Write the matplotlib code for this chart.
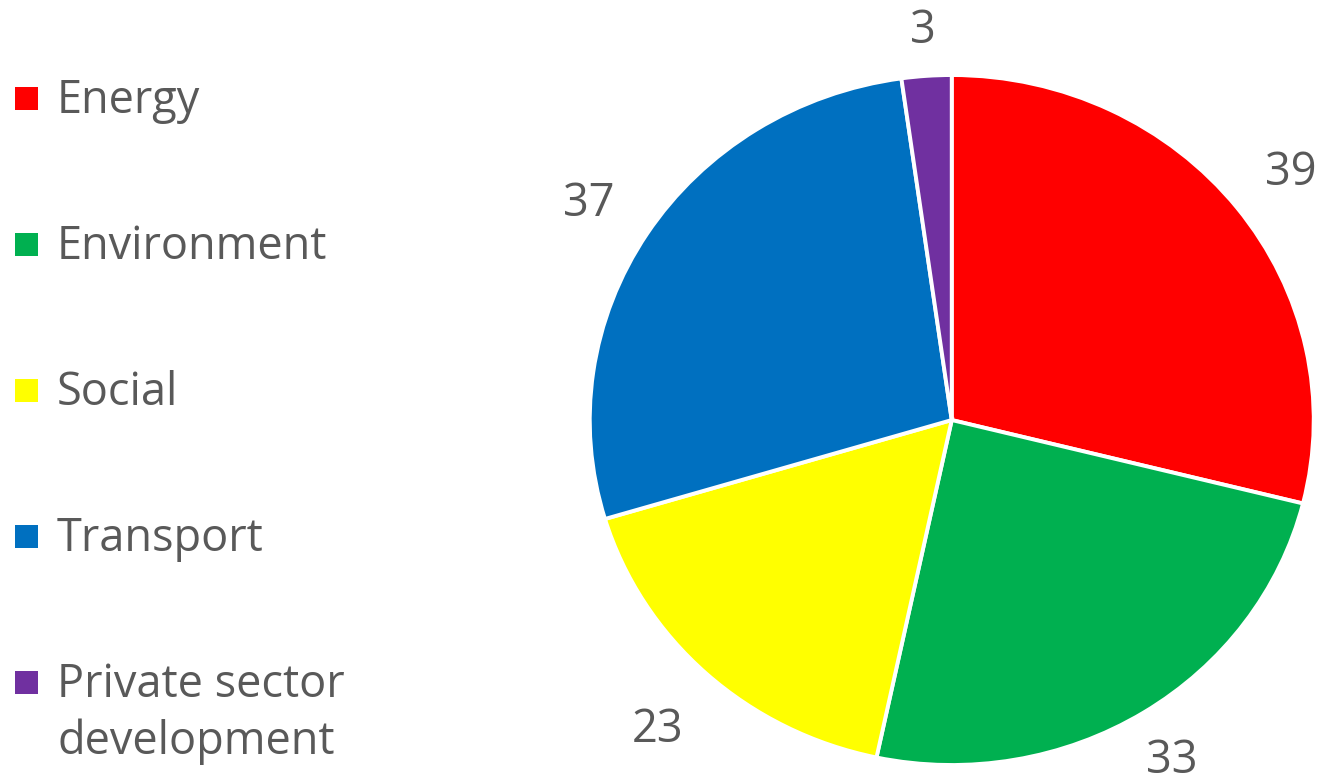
import matplotlib
matplotlib.use("Agg")
import matplotlib.pyplot as plt
from matplotlib.patches import Rectangle
import numpy as np

categories = ["Energy", "Environment", "Social", "Transport", "Private sector\ndevelopment"]
values = [39, 33, 23, 37, 3]
colors = ["#FF0000", "#00B050", "#FFFF00", "#0070C0", "#7030A0"]
value_labels = [str(v) for v in values]

# style: radial position of each value label (in pie radii)
label_radius = [1.19, 1.145, 1.2, 1.19, 1.145]

plt.rcParams['font.family'] = ['Open Sans', 'DejaVu Sans']
text_color = "#595959"
FS = 32.5
W, H = 1325, 784

fig = plt.figure(figsize=(W / 100, H / 100), dpi=100)
ax = fig.add_axes([0.4451, 0.0242, 0.5464, 0.8801])

wedges, _ = ax.pie(values, colors=colors, startangle=90, counterclock=False,
                   wedgeprops=dict(edgecolor="white", linewidth=2.8))
ax.set_aspect("auto")
ax.set_xlim(-1, 1)
ax.set_ylim(-1, 1)
ax.axis("off")

for w, lab, r in zip(wedges, value_labels, label_radius):
    mid = np.deg2rad((w.theta1 + w.theta2) / 2)
    ax.text(r * np.cos(mid), r * np.sin(mid), lab, ha="center", va="center_baseline",
            fontsize=FS, color=text_color)

# legend (manual layout so multi-line label keeps marker on first line)
x_marker, size = 15, 23
x_text = 57
y_first, pitch, line_pitch = 98, 146, 57
for i, (cat, col) in enumerate(zip(categories, colors)):
    yc = y_first + i * pitch
    fig.add_artist(Rectangle((x_marker / W, 1 - (yc + size / 2) / H), size / W, size / H,
                             transform=fig.transFigure, facecolor=col, edgecolor="none"))
    for j, line in enumerate(cat.split("\n")):
        fig.text(x_text / W, 1 - (yc + 15 + j * line_pitch) / H, line, ha="left",
                 va="baseline", fontsize=FS, color=text_color)

fig.savefig("out.png", dpi=100)
